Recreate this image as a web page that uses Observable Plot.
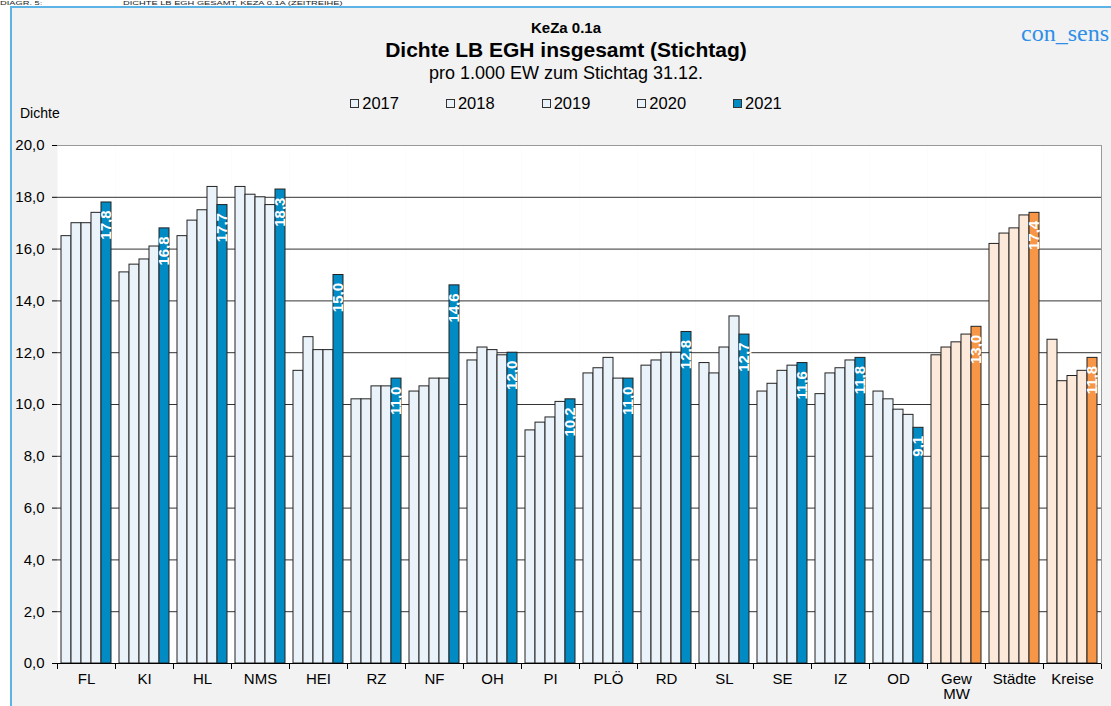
<!DOCTYPE html>
<html>
<head>
<meta charset="utf-8">
<script src="https://cdn.jsdelivr.net/npm/d3@7"></script>
<script src="https://cdn.jsdelivr.net/npm/@observablehq/plot@0.6"></script>
<style>
  html, body { margin: 0; padding: 0; background: #ffffff; }
  #page { position: relative; width: 1111px; height: 706px; overflow: hidden;
          font-family: "Liberation Sans", Arial, sans-serif; color: #000; background: #fff; }
  #topline { position: absolute; left: 0; top: 0; font-size: 6px; line-height: 6px; white-space: nowrap;
             transform-origin: 0 0; transform: scaleX(1.55); color: #222; }
  #topline span { margin-right: 52px; }
  #box { position: absolute; left: 10px; top: 6px; right: 0; bottom: 0; background: #f2f2f2;
         border-left: 2px solid #5cb3e6; border-top: 2px solid #5cb3e6; }
  .center { position: absolute; left: 21px; width: 1090px; text-align: center; white-space: nowrap; }
  #kz { top: 19px; font-size: 15px; font-weight: bold; }
  #title { top: 38px; font-size: 21px; font-weight: bold; }
  #sub { top: 63px; font-size: 18px; }
  #legend { top: 94px; display: flex; justify-content: center; gap: 47px; font-size: 16.5px; }
  .item { display: flex; align-items: center; }
  .sw { width: 9px; height: 9px; border: 1px solid #333; margin-right: 3px; box-sizing: border-box; }
  #ylab { position: absolute; left: 20px; top: 105px; font-size: 14px; }
  #brand { position: absolute; left: 1021px; top: 20px; font-family: "Liberation Serif", "DejaVu Serif", serif;
           font-size: 24px; color: #2e8ee8; white-space: nowrap; }
  #chart { position: absolute; left: 0; top: 120px; }
</style>
</head>
<body>
<div id="page">
  <div id="box"></div>
  <div id="topline"><span>DIAGR. 5:</span><span>DICHTE LB EGH GESAMT, KEZA 0.1A (ZEITREIHE)</span></div>
  <div class="center" id="kz">KeZa 0.1a</div>
  <div class="center" id="title">Dichte LB EGH insgesamt (Stichtag)</div>
  <div class="center" id="sub">pro 1.000 EW zum Stichtag 31.12.</div>
  <div class="center" id="legend"></div>
  <div id="ylab">Dichte</div>
  <div id="brand">con_sens</div>
  <div id="chart"></div>
</div>
<script>
// ---- data ----
const categories = ["FL","KI","HL","NMS","HEI","RZ","NF","OH","PI","PLÖ","RD","SL","SE","IZ","OD","Gew MW","Städte","Kreise"];
const years = ["2017","2018","2019","2020","2021"];
const v2017 = [16.5,15.1,16.5,18.4,11.3,10.2,10.5,11.7, 9.0,11.2,11.5,11.6,10.5,10.4,10.5,11.9,16.2,12.5];
const v2018 = [17.0,15.4,17.1,18.1,12.6,10.2,10.7,12.2, 9.3,11.4,11.7,11.2,10.8,11.2,10.2,12.2,16.6,10.9];
const v2019 = [17.0,15.6,17.5,18.0,12.1,10.7,11.0,12.1, 9.5,11.8,12.0,12.2,11.3,11.4, 9.8,12.4,16.8,11.1];
const v2020 = [17.4,16.1,18.4,17.7,12.1,10.7,11.0,11.9,10.1,11.0,12.0,13.4,11.5,11.7, 9.6,12.7,17.3,11.3];
const v2021 = [17.8,16.8,17.7,18.3,15.0,11.0,14.6,12.0,10.2,11.0,12.8,12.7,11.6,11.8, 9.1,13.0,17.4,11.8];
const aggregates = ["Gew MW","Städte","Kreise"];
const yTicks = [0,2,4,6,8,10,12,14,16,18,20];

// ---- colours ----
const lightBlue = "#eaf3fa", darkBlue = "#008bc4";
const lightOrange = "#fde9d9", darkOrange = "#f79646";

const series = [v2017, v2018, v2019, v2020, v2021];
const rows = [];
categories.forEach((c, i) => years.forEach((yr, j) => rows.push({cat: c, year: yr, value: series[j][i]})));
const fillOf = d => {
  const agg = aggregates.includes(d.cat), last = d.year === "2021";
  return agg ? (last ? darkOrange : lightOrange) : (last ? darkBlue : lightBlue);
};
const fmt = v => v.toFixed(1).replace(".", ",");

// legend
const legend = document.getElementById("legend");
years.forEach(yr => {
  const it = document.createElement("div"); it.className = "item";
  const sw = document.createElement("div"); sw.className = "sw";
  sw.style.background = yr === "2021" ? darkBlue : lightBlue;
  it.appendChild(sw);
  it.appendChild(document.createTextNode(yr));
  legend.appendChild(it);
});

const chart = Plot.plot({
  width: 1111, height: 586,
  marginTop: 25, marginBottom: 43, marginLeft: 56, marginRight: 9,
  style: {background: "transparent", fontFamily: "Liberation Sans, Arial, sans-serif", fontSize: "15px", color: "#000"},
  fx: {domain: categories, padding: 0, label: null, axis: null},
  x: {domain: years, paddingInner: 0, paddingOuter: 0.3, axis: null},
  y: {domain: [0, 20], label: null},
  marks: [
    Plot.frame({fill: "white"}),
    Plot.gridY(yTicks.filter(t => t > 0 && t < 20), {stroke: "#333", strokeOpacity: 1}),
    Plot.ruleY([20], {stroke: "#999"}),
    Plot.barY(rows, {fx: "cat", x: "year", y: "value", fill: fillOf, stroke: "#222", strokeWidth: 1}),
    Plot.text(rows.filter(d => d.year === "2021"), {
      fx: "cat", x: "year", y: "value", text: d => fmt(d.value),
      rotate: -90, textAnchor: "end", dy: 8, fill: "white", fontWeight: "bold", fontSize: 15
    }),
    Plot.ruleY([0], {stroke: "#000"}),
    Plot.axisY({ticks: yTicks, tickFormat: fmt, tickSize: 5, tickPadding: 8, line: true, label: null, fontSize: 15}),
    Plot.axisFx({anchor: "bottom", tickSize: 0, tickPadding: 10, label: null, fontSize: 15,
                 tickFormat: d => d === "Gew MW" ? "Gew\nMW" : d}),
    Plot.frame({anchor: "left", stroke: "#000", insetTop: 518, insetBottom: -5}),
    Plot.frame({anchor: "right", stroke: "#000", insetTop: 518, insetBottom: -5, facetAnchor: "right"}),
    Plot.frame({anchor: "right", stroke: "#999", facetAnchor: "right"})
  ]
});
document.getElementById("chart").appendChild(chart);
</script>
</body>
</html>
